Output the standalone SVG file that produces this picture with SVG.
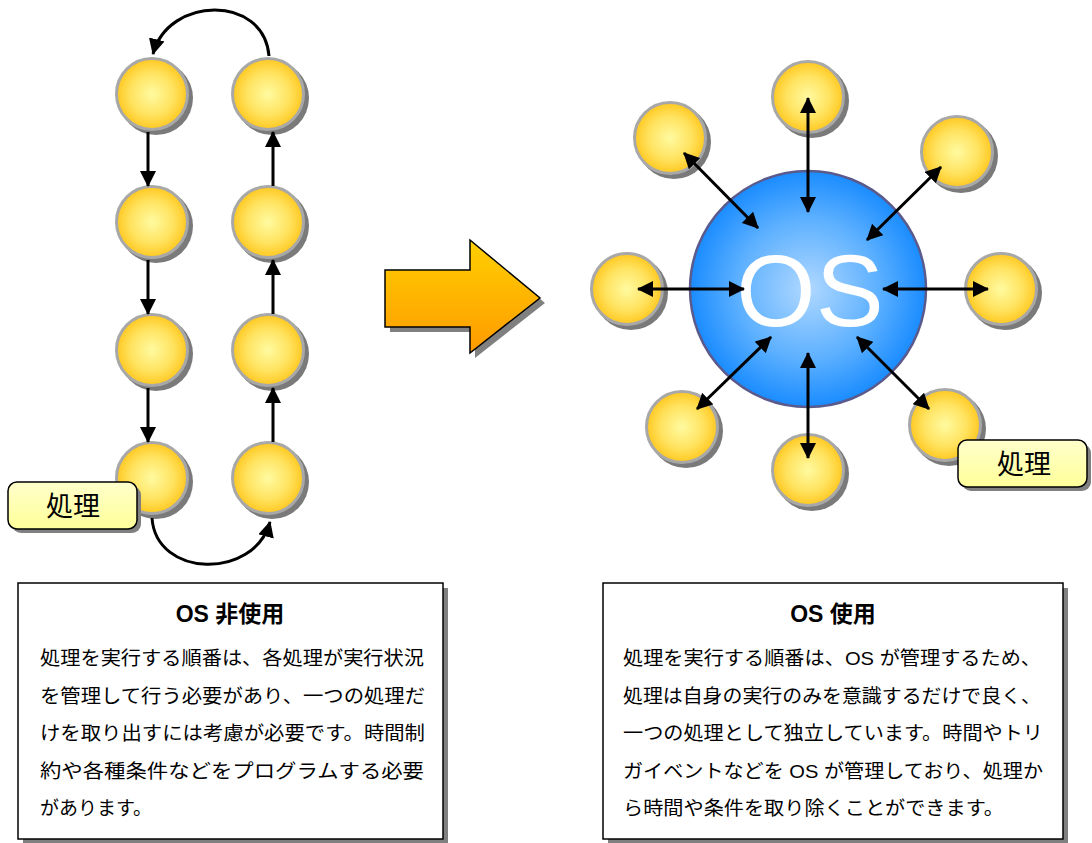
<svg xmlns="http://www.w3.org/2000/svg" xmlns:xlink="http://www.w3.org/1999/xlink" width="1092" height="843" viewBox="0 0 1092 843">
<style>
.ln{stroke:#000;stroke-width:3;fill:none}
.jp{font-family:"Liberation Sans","Noto Sans CJK JP",sans-serif;fill:#000}
.body{font-size:19px}
.title{font-size:23px;font-weight:bold}
.lbl{font-size:27px}
.box{fill:#fff;stroke:#000;stroke-width:1.5}
.shd{fill:#808080}
</style>
<defs>
<radialGradient id="gold" cx="0.5" cy="0.5" r="0.5">
<stop offset="0" stop-color="#fffaa0"/>
<stop offset="0.6" stop-color="#ffe360"/>
<stop offset="1" stop-color="#ffc820"/>
</radialGradient>
<radialGradient id="blue" cx="0.5" cy="0.5" r="0.5">
<stop offset="0" stop-color="#b0d8ff"/>
<stop offset="0.6" stop-color="#5cb0ff"/>
<stop offset="1" stop-color="#1a8cff"/>
</radialGradient>
<linearGradient id="orange" x1="0" y1="0" x2="0" y2="1">
<stop offset="0" stop-color="#ffd000"/>
<stop offset="1" stop-color="#ff9a00"/>
</linearGradient>
<linearGradient id="pale" x1="0" y1="0" x2="0" y2="1">
<stop offset="0" stop-color="#ffffcc"/>
<stop offset="1" stop-color="#ffff99"/>
</linearGradient>
<g id="ball">
<circle cx="4" cy="4" r="37" fill="#7a7a7a"/>
<circle cx="0" cy="0" r="35.5" fill="url(#gold)" stroke="#a8a8a8" stroke-width="3"/>
</g>
<marker id="ah" markerUnits="userSpaceOnUse" markerWidth="16" markerHeight="16" viewBox="0 0 16 16" refX="15" refY="8" orient="auto-start-reverse">
<path d="M0,0 L16,8 L0,16 Z" fill="#000"/>
</marker>
</defs>
<rect width="1092" height="843" fill="#fff"/>

<!-- left column nodes -->
<g id="l1"><use xlink:href="#ball" x="152" y="94"/></g>
<g id="l2"><use xlink:href="#ball" x="152" y="222"/></g>
<g id="l3"><use xlink:href="#ball" x="152" y="350"/></g>
<g id="l4"><use xlink:href="#ball" x="152" y="478"/></g>
<g id="r1"><use xlink:href="#ball" x="268" y="94"/></g>
<g id="r2"><use xlink:href="#ball" x="268" y="222"/></g>
<g id="r3"><use xlink:href="#ball" x="268" y="350"/></g>
<g id="r4"><use xlink:href="#ball" x="268" y="478"/></g>

<!-- right side nodes -->
<g id="os">
<circle cx="808" cy="289" r="118" fill="url(#blue)" stroke="#5a5a8c" stroke-width="2.5"/>
<text x="810" y="326" text-anchor="middle" font-family="Liberation Sans, sans-serif" font-size="102" fill="#fff">OS</text>
</g>
<g id="p-top"><use xlink:href="#ball" x="808" y="97"/></g>
<g id="p-tl"><use xlink:href="#ball" x="670" y="138"/></g>
<g id="p-tr"><use xlink:href="#ball" x="957" y="152"/></g>
<g id="p-l"><use xlink:href="#ball" x="627" y="289"/></g>
<g id="p-r"><use xlink:href="#ball" x="1001" y="289"/></g>
<g id="p-bl"><use xlink:href="#ball" x="682" y="427"/></g>
<g id="p-b"><use xlink:href="#ball" x="808" y="470"/></g>
<g id="p-br"><use xlink:href="#ball" x="945" y="425"/></g>

<!-- connectors -->
<g id="connectors">
<line class="ln" x1="148" y1="132" x2="148" y2="186" marker-end="url(#ah)"/>
<line class="ln" x1="148" y1="260" x2="148" y2="314" marker-end="url(#ah)"/>
<line class="ln" x1="148" y1="388" x2="148" y2="442" marker-end="url(#ah)"/>
<line class="ln" x1="273" y1="186" x2="273" y2="132" marker-end="url(#ah)"/>
<line class="ln" x1="273" y1="314" x2="273" y2="260" marker-end="url(#ah)"/>
<line class="ln" x1="273" y1="442" x2="273" y2="388" marker-end="url(#ah)"/>
<path class="ln" d="M269,56 C264,-6 168,-4 153,54" marker-end="url(#ah)"/>
<path class="ln" d="M152,518 C156,578 254,580 270,522" marker-end="url(#ah)"/>

<line class="ln" x1="808" y1="98" x2="808" y2="212" marker-start="url(#ah)" marker-end="url(#ah)"/>
<line class="ln" x1="684" y1="153" x2="758" y2="228" marker-start="url(#ah)" marker-end="url(#ah)"/>
<line class="ln" x1="941" y1="167" x2="867" y2="240" marker-start="url(#ah)" marker-end="url(#ah)"/>
<line class="ln" x1="638" y1="289" x2="744" y2="289" marker-start="url(#ah)" marker-end="url(#ah)"/>
<line class="ln" x1="988" y1="289" x2="883" y2="289" marker-start="url(#ah)" marker-end="url(#ah)"/>
<line class="ln" x1="697" y1="409" x2="771" y2="337" marker-start="url(#ah)" marker-end="url(#ah)"/>
<line class="ln" x1="808" y1="458" x2="808" y2="353" marker-start="url(#ah)" marker-end="url(#ah)"/>
<line class="ln" x1="929" y1="409" x2="857" y2="337" marker-start="url(#ah)" marker-end="url(#ah)"/>
</g>

<!-- labels -->
<g id="label-left">
<rect x="12" y="486" width="129" height="47" rx="9" class="shd"/>
<rect x="8" y="482" width="129" height="47" rx="9" fill="url(#pale)" stroke="#000" stroke-width="1.5"/>
<text x="73" y="516" text-anchor="middle" class="jp lbl">処理</text>
</g>
<g id="label-right">
<rect x="962" y="444" width="129" height="47" rx="9" class="shd"/>
<rect x="958" y="440" width="129" height="47" rx="9" fill="url(#pale)" stroke="#000" stroke-width="1.5"/>
<text x="1024" y="474" text-anchor="middle" class="jp lbl">処理</text>
</g>

<!-- big arrow -->
<g id="big-arrow">
<polygon points="390,275 475,275 475,245 545,303 475,358 475,332 390,332" class="shd"/>
<polygon points="385,270 470,270 470,240 540,298 470,353 470,327 385,327" fill="url(#orange)" stroke="#000" stroke-width="1.5" stroke-linejoin="miter"/>
</g>

<!-- text boxes -->
<g id="box-left">
<rect x="23" y="588" width="425" height="257" class="shd"/>
<rect x="18" y="583" width="425" height="256" class="box"/>
<text x="230" y="622" text-anchor="middle" class="jp title">OS 非使用</text>
<text class="jp body" x="40" y="665" textLength="384" lengthAdjust="spacingAndGlyphs">処理を実行する順番は、各処理が実行状況</text>
<text class="jp body" x="40" y="703" textLength="385" lengthAdjust="spacingAndGlyphs">を管理して行う必要があり、一つの処理だ</text>
<text class="jp body" x="40" y="740" textLength="385" lengthAdjust="spacingAndGlyphs">けを取り出すには考慮が必要です。時間制</text>
<text class="jp body" x="40" y="778" textLength="384" lengthAdjust="spacingAndGlyphs">約や各種条件などをプログラムする必要</text>
<text class="jp body" x="40" y="815">があります。</text>
</g>
<g id="box-right">
<rect x="608" y="588" width="460" height="257" class="shd"/>
<rect x="603" y="583" width="460" height="256" class="box"/>
<text x="833" y="622" text-anchor="middle" class="jp title">OS 使用</text>
<text class="jp body" x="623" y="665" textLength="418" lengthAdjust="spacingAndGlyphs">処理を実行する順番は、OS が管理するため、</text>
<text class="jp body" x="623" y="703" textLength="418" lengthAdjust="spacingAndGlyphs">処理は自身の実行のみを意識するだけで良く、</text>
<text class="jp body" x="623" y="740" textLength="420" lengthAdjust="spacingAndGlyphs">一つの処理として独立しています。時間やトリ</text>
<text class="jp body" x="623" y="778" textLength="420" lengthAdjust="spacingAndGlyphs">ガイベントなどを OS が管理しており、処理か</text>
<text class="jp body" x="623" y="815" textLength="381" lengthAdjust="spacingAndGlyphs">ら時間や条件を取り除くことができます。</text>
</g>
</svg>
